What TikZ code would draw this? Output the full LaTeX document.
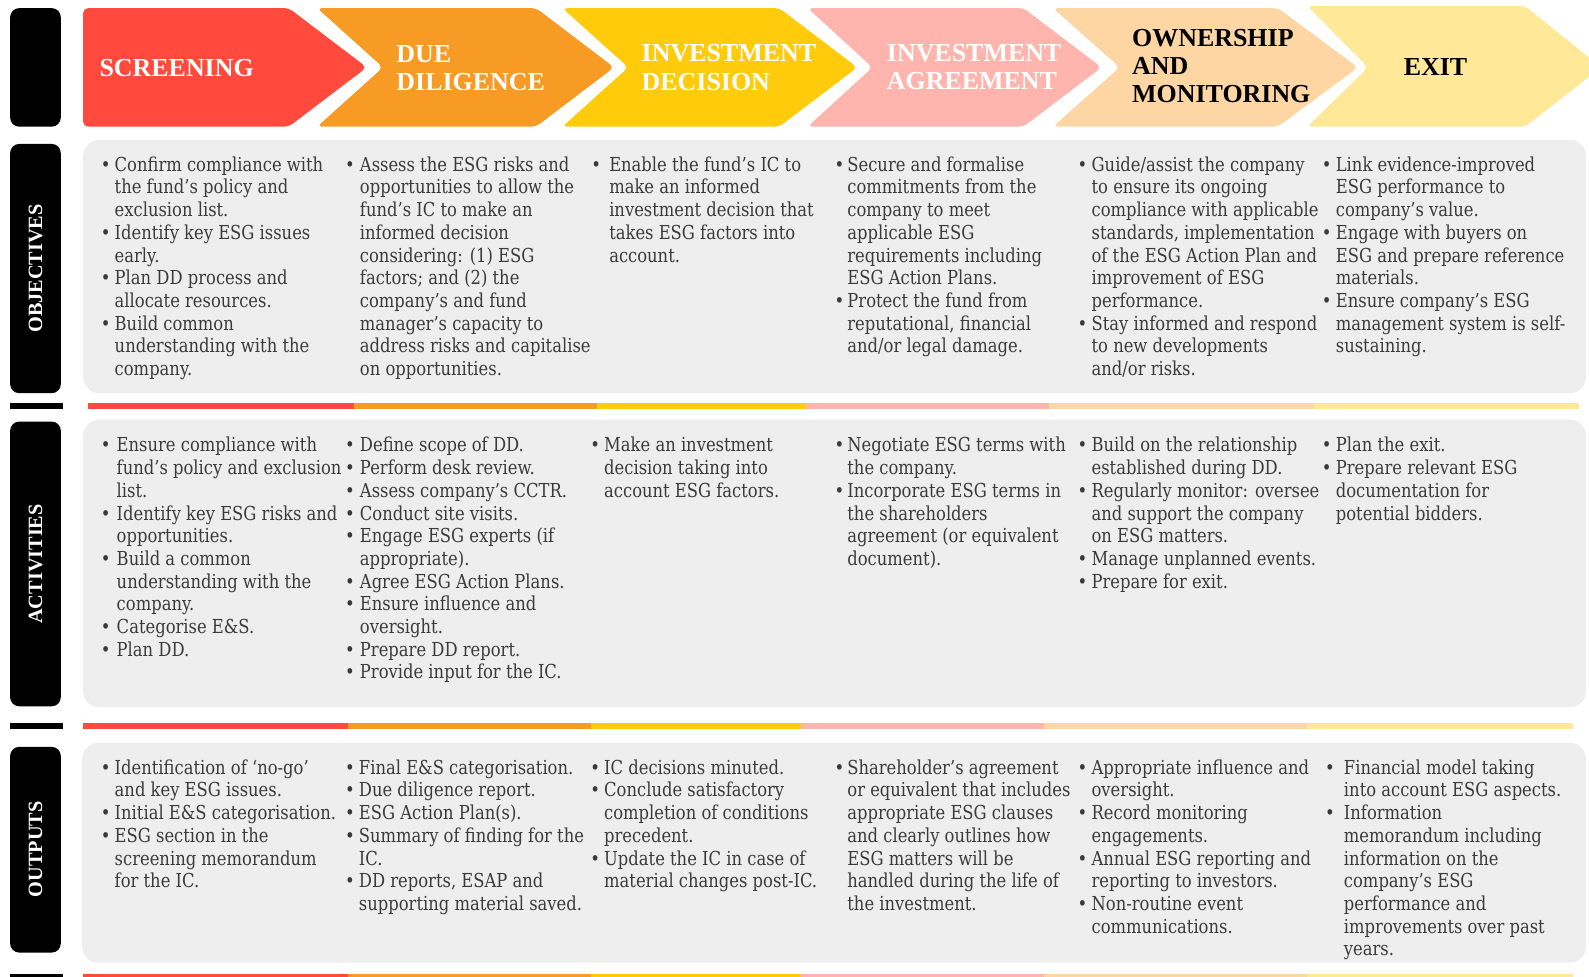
\documentclass[tikz,border=0pt]{standalone}
\usepackage{fontspec}
\setmainfont{DejaVu Serif}[FakeStretch=0.85]
\newfontfamily\hfont{Liberation Serif}
\definecolor{cRed}{HTML}{FF4A3D}
\definecolor{cOrange}{HTML}{F89B24}
\definecolor{cYellow}{HTML}{FFCB0B}
\definecolor{cPink}{HTML}{FFB5AE}
\definecolor{cPeach}{HTML}{FDD6A3}
\definecolor{cLight}{HTML}{FFE898}
\definecolor{panelgray}{HTML}{EDEEED}
\definecolor{bodytext}{HTML}{3A3A3A}
\newcommand\bgap{4.2pt}
\newcommand\bl{\leavevmode\llap{\textbullet\hspace{\bgap}}}
\tikzset{
  lab/.style={fill=black, rounded corners=9pt},
  panel/.style={fill=panelgray, rounded corners=16pt},
  chev/.style={rounded corners=5pt},
  htext/.style={font=\hfont\bfseries\fontsize{25.6}{28}\selectfont, align=left, inner sep=0, anchor=west},
  side/.style={font=\hfont\bfseries\fontsize{20}{24}\selectfont, text=white, rotate=90, inner sep=0},
  body/.style={inner sep=0, anchor=base west, text=bodytext, font=\fontsize{19}{22.4}\selectfont},
}
\begin{document}
\begin{tikzpicture}[x=1pt,y=-1pt]
\useasboundingbox (0,0) rectangle (1568,964);
\clip (0,0) rectangle (1568,964);
% black side labels
\fill[lab] (10,8) rectangle (60,125);
\fill[lab] (10,142) rectangle (60,388);
\fill[lab] (10,416) rectangle (60,697);
\fill[lab] (10,737) rectangle (60,940);
\fill[black] (10,398) rectangle (62,404);
\fill[black] (10,713) rectangle (62,719);
\fill[black] (10,961) rectangle (62,967);
\node[side] (s1) at (35,265) {OBJECTIVES};
\node[side] (s2) at (35,556.5) {ACTIVITIES};
\node[side] (s3) at (35,838) {OUTPUTS};
% chevrons
\fill[chev,cRed] (82,8) -- (285,8) -- (362,66.5) -- (285,125) -- (82,125) -- cycle;
\fill[chev,cOrange] (313,8) -- (529,8) -- (606,66.5) -- (529,125) -- (313,125) -- (378,66.5) -- cycle;
\fill[chev,cYellow] (555,8) -- (769,8) -- (846,66.5) -- (769,125) -- (555,125) -- (620,66.5) -- cycle;
\fill[chev,cPink] (797,8) -- (1010,8) -- (1087,66.5) -- (1010,125) -- (797,125) -- (861,66.5) -- cycle;
\fill[chev,cPeach] (1039,8) -- (1261,8) -- (1340,66.5) -- (1261,125) -- (1039,125) -- (1105,66.5) -- cycle;
\fill[chev,cLight] (1290,6) -- (1505,6) -- (1580,66.5) -- (1505,125) -- (1290,125) -- (1350,66.5) -- cycle;
\node[htext, text=white] (h1) at (98,67) {SCREENING};
\node[htext, text=white] (h2) at (391,67) {DUE\\DILIGENCE};
\node[htext, text=white] (h3) at (633,66.5) {INVESTMENT\\DECISION};
\node[htext, text=white] (h4) at (875,66) {INVESTMENT\\AGREEMENT};
\node[htext, text=black, font=\hfont\bfseries\fontsize{25.6}{27.5}\selectfont] (h5) at (1117,65.5) {OWNERSHIP\\AND\\MONITORING};
\node[htext, text=black] (h6) at (1385,66) {EXIT};
% panels
\fill[panel] (82,138) rectangle (1565,388);
\fill[panel] (82,414) rectangle (1565,698);
\fill[panel] (81,733) rectangle (1565,950);
% colour lines
\foreach \a/\b/\c in {87/349/cRed,349/589/cOrange,589/795/cYellow,795/1035/cPink,1035/1297/cPeach,1297/1558/cLight}
  \fill[\c] (\a,398) rectangle (\b,404);
\foreach \a/\b/\c in {82/343/cRed,343/583/cOrange,583/790/cYellow,790/1030/cPink,1030/1290/cPeach,1290/1552/cLight}{
  \fill[\c] (\a,713) rectangle (\b,719);
  \fill[\c] (\a,961) rectangle (\b,967);}
% OBJECTIVES
\node[body] (o1) at (113,169) {\parbox[t]{300pt}{\def\bgap{4.2pt}%
\bl Confirm compliance with\\
the fund’s policy and\\
exclusion list.\\
\bl Identify key ESG issues\\
early.\\
\bl Plan DD process and\\
allocate resources.\\
\bl Build common\\
understanding with the\\
company.}};
\node[body] (o2) at (355,169) {\parbox[t]{300pt}{\def\bgap{5.2pt}%
\bl Assess the ESG risks and\\
opportunities to allow the\\
fund’s IC to make an\\
informed decision\\
considering: (1) ESG\\
factors; and (2) the\\
company’s and fund\\
manager’s capacity to\\
address risks and capitalise\\
on opportunities.}};
\node[body] (o3) at (601,169) {\parbox[t]{300pt}{\def\bgap{8.2pt}%
\bl Enable the fund’s IC to\\
make an informed\\
investment decision that\\
takes ESG factors into\\
account.}};
\node[body] (o4) at (836,169) {\parbox[t]{300pt}{\def\bgap{3.2pt}%
\bl Secure and formalise\\
commitments from the\\
company to meet\\
applicable ESG\\
requirements including\\
ESG Action Plans.\\
\bl Protect the fund from\\
reputational, financial\\
and/or legal damage.}};
\node[body] (o5) at (1077,169) {\parbox[t]{300pt}{\def\bgap{4.2pt}%
\bl Guide/assist the company\\
to ensure its ongoing\\
compliance with applicable\\
standards, implementation\\
of the ESG Action Plan and\\
improvement of ESG\\
performance.\\
\bl Stay informed and respond\\
to new developments\\
and/or risks.}};
\node[body] (o6) at (1318,169) {\parbox[t]{300pt}{\def\bgap{4.2pt}%
\bl Link evidence-improved\\
ESG performance to\\
company’s value.\\
\bl Engage with buyers on\\
ESG and prepare reference\\
materials.\\
\bl Ensure company’s ESG\\
management system is self-\\
sustaining.}};
% ACTIVITIES
\node[body] (a1) at (115,446) {\parbox[t]{300pt}{\def\bgap{6.2pt}%
\bl Ensure compliance with\\
fund’s policy and exclusion\\
list.\\
\bl Identify key ESG risks and\\
opportunities.\\
\bl Build a common\\
understanding with the\\
company.\\
\bl Categorise E\&S.\\
\bl Plan DD.}};
\node[body] (a2) at (355,446) {\parbox[t]{300pt}{\def\bgap{5.2pt}%
\bl Define scope of DD.\\
\bl Perform desk review.\\
\bl Assess company’s CCTR.\\
\bl Conduct site visits.\\
\bl Engage ESG experts (if\\
appropriate).\\
\bl Agree ESG Action Plans.\\
\bl Ensure influence and\\
oversight.\\
\bl Prepare DD report.\\
\bl Provide input for the IC.}};
\node[body] (a3) at (596,446) {\parbox[t]{300pt}{\def\bgap{4.2pt}%
\bl Make an investment\\
decision taking into\\
account ESG factors.}};
\node[body] (a4) at (836,446) {\parbox[t]{300pt}{\def\bgap{3.2pt}%
\bl Negotiate ESG terms with\\
the company.\\
\bl Incorporate ESG terms in\\
the shareholders\\
agreement (or equivalent\\
document).}};
\node[body] (a5) at (1077,446) {\parbox[t]{300pt}{\def\bgap{4.2pt}%
\bl Build on the relationship\\
established during DD.\\
\bl Regularly monitor: oversee\\
and support the company\\
on ESG matters.\\
\bl Manage unplanned events.\\
\bl Prepare for exit.}};
\node[body] (a6) at (1318,446) {\parbox[t]{300pt}{\def\bgap{4.2pt}%
\bl Plan the exit.\\
\bl Prepare relevant ESG\\
documentation for\\
potential bidders.}};
% OUTPUTS
\node[body] (u1) at (113,764) {\parbox[t]{300pt}{\def\bgap{4.2pt}%
\bl Identification of ‘no-go’\\
and key ESG issues.\\
\bl Initial E\&S categorisation.\\
\bl ESG section in the\\
screening memorandum\\
for the IC.}};
\node[body] (u2) at (354,764) {\parbox[t]{300pt}{\def\bgap{4.2pt}%
\bl Final E\&S categorisation.\\
\bl Due diligence report.\\
\bl ESG Action Plan(s).\\
\bl Summary of finding for the\\
IC.\\
\bl DD reports, ESAP and\\
supporting material saved.}};
\node[body] (u3) at (596,764) {\parbox[t]{300pt}{\def\bgap{4.2pt}%
\bl IC decisions minuted.\\
\bl Conclude satisfactory\\
completion of conditions\\
precedent.\\
\bl Update the IC in case of\\
material changes post-IC.}};
\node[body] (u4) at (836,764) {\parbox[t]{300pt}{\def\bgap{3.2pt}%
\bl Shareholder’s agreement\\
or equivalent that includes\\
appropriate ESG clauses\\
and clearly outlines how\\
ESG matters will be\\
handled during the life of\\
the investment.}};
\node[body] (u5) at (1077,764) {\parbox[t]{300pt}{\def\bgap{4.2pt}%
\bl Appropriate influence and\\
oversight.\\
\bl Record monitoring\\
engagements.\\
\bl Annual ESG reporting and\\
reporting to investors.\\
\bl Non-routine event\\
communications.}};
\node[body] (u6) at (1326,764) {\parbox[t]{300pt}{\def\bgap{9.2pt}%
\bl Financial model taking\\
into account ESG aspects.\\
\bl Information\\
memorandum including\\
information on the\\
company’s ESG\\
performance and\\
improvements over past\\
years.}};
\end{tikzpicture}
\end{document}
